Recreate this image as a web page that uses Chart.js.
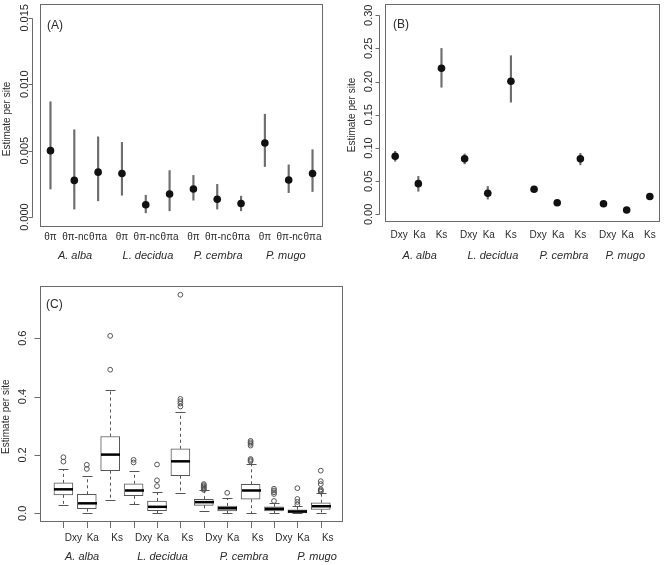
<!DOCTYPE html>
<html>
<head>
<meta charset="utf-8">
<script src="https://cdn.jsdelivr.net/npm/chart.js@4.4.1/dist/chart.umd.min.js"></script>
<style>
  body { margin: 0; background: #fff; }
  #wrap { position: relative; width: 664px; height: 565px; overflow: hidden; }
  canvas { position: absolute; }
</style>
</head>
<body>
<div id="wrap">
  <canvas id="chartA" width="330" height="270" style="left:0;top:0"></canvas>
  <canvas id="chartB" width="332" height="270" style="left:332px;top:0"></canvas>
  <canvas id="chartC" width="350" height="295" style="left:0;top:270px"></canvas>
</div>
<script>
const species = ['A. alba', 'L. decidua', 'P. cembra', 'P. mugo'];
const thetaNames = ['θπ', 'θπ-nc', 'θπa'];
const divNames = ['Dxy', 'Ka', 'Ks'];

// (A) diversity estimates with intervals
const thetaMean = [0.00500, 0.00276, 0.00338, 0.00328, 0.00092, 0.00174, 0.00211, 0.00134, 0.00102, 0.00557, 0.00279, 0.00328];
const thetaLow = [0.00211, 0.00060, 0.00122, 0.00164, 0.00032, 0.00047, 0.00127, 0.00060, 0.00047, 0.00380, 0.00184, 0.00192];
const thetaHigh = [0.00868, 0.00657, 0.00604, 0.00562, 0.00164, 0.00350, 0.00313, 0.00246, 0.00157, 0.00774, 0.00393, 0.00507];

// (B) divergence estimates with intervals
const divMean = [0.0876, 0.0463, 0.2200, 0.0836, 0.0318, 0.2005, 0.0378, 0.0174, 0.0836, 0.0159, 0.0065, 0.0269];
const divLow = [0.0800, 0.0348, 0.1915, 0.0760, 0.0230, 0.1690, 0.0358, 0.0164, 0.0746, 0.0150, 0.0060, 0.0255];
const divHigh = [0.0950, 0.0572, 0.2500, 0.0910, 0.0420, 0.2390, 0.0398, 0.0184, 0.0920, 0.0168, 0.0070, 0.0283];

// (C) per-gene distributions
const boxMin = [0.027, 0.001, 0.046, 0.032, 0.000, 0.069, 0.009, 0.000, 0.000, 0.000, 0.000, 0.000];
const boxQ1 = [0.063, 0.016, 0.146, 0.060, 0.009, 0.129, 0.027, 0.008, 0.048, 0.008, 0.001, 0.013];
const boxMedian = [0.082, 0.034, 0.201, 0.078, 0.022, 0.178, 0.038, 0.017, 0.078, 0.015, 0.006, 0.024];
const boxQ3 = [0.104, 0.065, 0.263, 0.101, 0.042, 0.221, 0.048, 0.025, 0.099, 0.022, 0.012, 0.036];
const boxMax = [0.150, 0.128, 0.423, 0.146, 0.074, 0.348, 0.078, 0.053, 0.169, 0.036, 0.024, 0.068];
const boxOutliers = [
  [0.177, 0.192],
  [0.152, 0.166],
  [0.492, 0.608],
  [0.174, 0.183],
  [0.093, 0.113, 0.167],
  [0.366, 0.376, 0.384, 0.392, 0.749],
  [0.080, 0.084, 0.088, 0.092, 0.096, 0.100],
  [0.070],
  [0.178, 0.182, 0.186, 0.232, 0.238, 0.243, 0.248],
  [0.042, 0.066, 0.072, 0.078, 0.084],
  [0.030, 0.039, 0.049, 0.086],
  [0.074, 0.078, 0.082, 0.100, 0.110, 0.146]
];

const yTicksA = [0, 0.005, 0.010, 0.015];
const yLabelsA = ['0.000', '0.005', '0.010', '0.015'];
const yTicksB = [0, 0.05, 0.10, 0.15, 0.20, 0.25, 0.30];
const yLabelsB = ['0.00', '0.05', '0.10', '0.15', '0.20', '0.25', '0.30'];
const yTicksC = [0, 0.2, 0.4, 0.6];
const yLabelsC = ['0.0', '0.2', '0.4', '0.6'];

const positions = [1, 2, 3, 4, 5, 6, 7, 8, 9, 10, 11, 12];

function font(size, italic) {
    return (italic ? 'italic ' : '') + size + 'px "Liberation Sans", Arial, sans-serif';
}

// R-like frame, axis and texts, drawn from the chart's own scales
function makeAxes(cfg) {
    return {
        id: 'rAxes',
        afterDraw(chart) {
            const ctx = chart.ctx;
            const a = chart.chartArea;
            const xs = chart.scales.x;
            const ys = chart.scales.y;
            ctx.save();
            ctx.strokeStyle = '#6a6a6a';
            ctx.lineWidth = 1;
            ctx.strokeRect(Math.round(a.left) + 0.5, Math.round(a.top) + 0.5,
                Math.round(a.right - a.left) - 1, Math.round(a.bottom - a.top) - 1);

            const ax = Math.round(a.left - cfg.axisGap) + 0.5;
            ctx.beginPath();
            ctx.moveTo(ax, Math.round(ys.getPixelForValue(cfg.yTicks[0])) + 0.5);
            ctx.lineTo(ax, Math.round(ys.getPixelForValue(cfg.yTicks[cfg.yTicks.length - 1])) + 0.5);
            cfg.yTicks.forEach(v => {
                const y = Math.round(ys.getPixelForValue(v)) + 0.5;
                ctx.moveTo(ax, y);
                ctx.lineTo(ax - cfg.tickLen, y);
            });
            if (cfg.xTicks) {
                positions.forEach(p => {
                    const x = Math.round(xs.getPixelForValue(p)) + 0.5;
                    ctx.moveTo(x, a.bottom);
                    ctx.lineTo(x, a.bottom + cfg.tickLen);
                });
            }
            ctx.stroke();

            ctx.fillStyle = '#2a2a2a';
            ctx.textAlign = 'center';
            ctx.textBaseline = 'middle';
            ctx.font = font(11);
            cfg.yTicks.forEach((v, i) => {
                ctx.save();
                ctx.translate(a.left - cfg.labelGap, ys.getPixelForValue(v));
                ctx.rotate(-Math.PI / 2);
                ctx.fillText(cfg.yLabels[i], 0, 0);
                ctx.restore();
            });

            ctx.save();
            ctx.translate(cfg.titleX, cfg.titleY);
            ctx.rotate(-Math.PI / 2);
            ctx.font = font(10);
            ctx.fillText('Estimate per site', 0, 0);
            ctx.restore();

            ctx.font = font(10);
            positions.forEach((p, i) => {
                ctx.fillText(cfg.xNames[i % 3], xs.getPixelForValue(p) + cfg.xShift[i % 3], a.bottom + cfg.xLabelDy);
            });
            ctx.font = font(11, true);
            species.forEach((s, i) => {
                ctx.fillText(s, xs.getPixelForValue(cfg.groupAt[i]), a.bottom + cfg.groupDy);
            });

            ctx.textAlign = 'left';
            ctx.font = font(12);
            ctx.fillText(cfg.panel, a.left + cfg.panelDx, a.top + cfg.panelDy);
            ctx.restore();
        }
    };
}

// whiskers, caps and medians of the box plot
const boxParts = {
    id: 'boxParts',
    afterDatasetsDraw(chart) {
        const ctx = chart.ctx;
        const xs = chart.scales.x;
        const ys = chart.scales.y;
        ctx.save();
        positions.forEach((p, i) => {
            const x = Math.round(xs.getPixelForValue(p)) + 0.5;
            const yMax = Math.round(ys.getPixelForValue(boxMax[i])) + 0.5;
            const yMin = Math.round(ys.getPixelForValue(boxMin[i])) + 0.5;
            ctx.strokeStyle = '#555';
            ctx.lineWidth = 1;
            ctx.setLineDash([3, 3]);
            ctx.beginPath();
            ctx.moveTo(x, ys.getPixelForValue(boxQ3[i]));
            ctx.lineTo(x, yMax);
            ctx.moveTo(x, ys.getPixelForValue(boxQ1[i]));
            ctx.lineTo(x, yMin);
            ctx.stroke();
            ctx.setLineDash([]);
            ctx.beginPath();
            ctx.moveTo(x - 5, yMax);
            ctx.lineTo(x + 5, yMax);
            ctx.moveTo(x - 5, yMin);
            ctx.lineTo(x + 5, yMin);
            ctx.stroke();
            ctx.strokeStyle = '#000';
            ctx.lineWidth = 2.5;
            ctx.beginPath();
            const ym = ys.getPixelForValue(boxMedian[i]);
            ctx.moveTo(x - 9.5, ym);
            ctx.lineTo(x + 9.5, ym);
            ctx.stroke();
        });
        ctx.restore();
    }
};

function baseOptions(xMin, xMax, yMin, yMax, padding) {
    return {
        responsive: false,
        animation: false,
        layout: { padding: padding },
        plugins: { legend: { display: false }, tooltip: { enabled: false } },
        scales: {
            x: { type: 'linear', min: xMin, max: xMax, offset: false, display: false },
            y: { type: 'linear', min: yMin, max: yMax, display: false }
        }
    };
}

function intervalChart(id, mean, low, high, yMin, yMax, padding, axes) {
    return new Chart(document.getElementById(id), {
        type: 'bar',
        data: {
            datasets: [
                {
                    type: 'line',
                    order: 0,
                    showLine: false,
                    data: positions.map((p, i) => ({ x: p, y: mean[i] })),
                    pointRadius: 3.8,
                    pointBackgroundColor: '#111',
                    pointBorderColor: '#111',
                    pointBorderWidth: 0
                },
                {
                    type: 'bar',
                    order: 1,
                    data: positions.map((p, i) => ({ x: p, y: [low[i], high[i]] })),
                    backgroundColor: '#6e6e6e',
                    barThickness: 1.5
                }
            ]
        },
        options: baseOptions(0.56, 12.44, yMin, yMax, padding),
        plugins: [makeAxes(axes)]
    });
}

intervalChart('chartA', thetaMean, thetaLow, thetaHigh, -0.00075, 0.01604,
    { left: 40, right: 7, top: 2, bottom: 43 },
    {
        yTicks: yTicksA, yLabels: yLabelsA, axisGap: 8.3, tickLen: 4, labelGap: 15,
        titleX: 7.5, titleY: 119, xNames: thetaNames, xShift: [0, 1, 0], xLabelDy: 10,
        groupAt: [2.03, 5.09, 8.04, 10.88], groupDy: 29, panel: '(A)', panelDx: 7, panelDy: 22
    });

intervalChart('chartB', divMean, divLow, divHigh, -0.0115, 0.3169,
    { left: 53, right: 1, top: 2, bottom: 48 },
    {
        yTicks: yTicksB, yLabels: yLabelsB, axisGap: 5.7, tickLen: 4, labelGap: 15.7,
        titleX: 20, titleY: 115, xNames: divNames, xShift: [4, 1, 0], xLabelDy: 13,
        groupAt: [2.06, 5.22, 8.29, 10.94], groupDy: 34, panel: '(B)', panelDx: 8, panelDy: 21
    });

const outlierPoints = [];
boxOutliers.forEach((list, i) => list.forEach(v => outlierPoints.push({ x: positions[i], y: v })));

new Chart(document.getElementById('chartC'), {
    type: 'bar',
    data: {
        datasets: [
            {
                type: 'line',
                order: 0,
                showLine: false,
                data: outlierPoints,
                pointRadius: 2.4,
                pointBackgroundColor: 'rgba(0,0,0,0)',
                pointBorderColor: '#555',
                pointBorderWidth: 1
            },
            {
                type: 'bar',
                order: 1,
                data: positions.map((p, i) => ({ x: p, y: [boxQ1[i], boxQ3[i]] })),
                backgroundColor: '#fff',
                borderColor: '#555',
                borderWidth: 1,
                borderSkipped: false,
                barThickness: 19
            }
        ]
    },
    options: baseOptions(0, 12.95, -0.030, 0.779, { left: 40, right: 7, top: 16, bottom: 43 }),
    plugins: [boxParts, makeAxes({
        yTicks: yTicksC, yLabels: yLabelsC, axisGap: 0, tickLen: 6, labelGap: 17.5,
        titleX: 6.7, titleY: 146.7, xNames: divNames, xShift: [10, 6, 7], xLabelDy: 16.3, xTicks: true,
        groupAt: [1.80, 5.24, 8.72, 11.84], groupDy: 34.7, panel: '(C)', panelDx: 6, panelDy: 18.3
    })]
});
</script>
</body>
</html>
